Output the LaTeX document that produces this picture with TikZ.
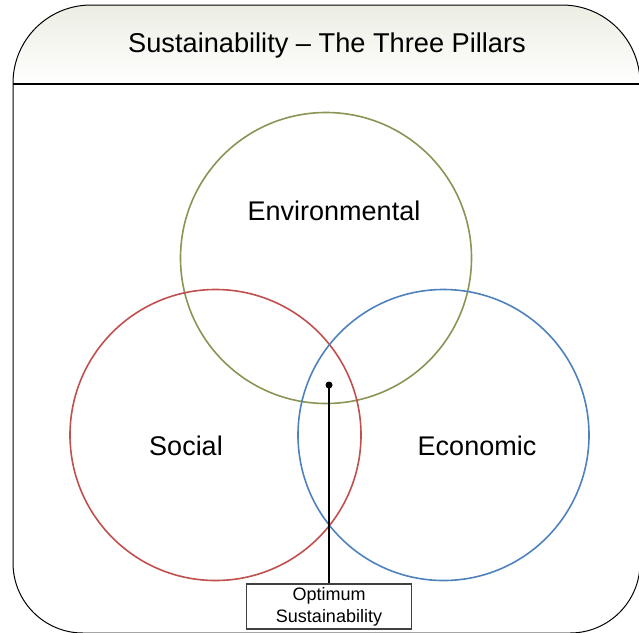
\documentclass[tikz,border=0pt]{standalone}
\usepackage{fontspec}
\setmainfont{Liberation Sans}
\definecolor{envcol}{RGB}{138,148,85}
\definecolor{soccol}{RGB}{192,80,77}
\definecolor{ecocol}{RGB}{79,129,189}
\definecolor{titletop}{RGB}{236,237,226}
\begin{document}
\begin{tikzpicture}[x=1pt,y=-1pt,
  pillar/.style={circle,minimum size=291pt,inner sep=0pt,line width=1.6pt},
  pillarlabel/.style={font=\fontsize{27}{32}\selectfont,inner sep=0pt},
  labelbox/.style={draw=black!75,line width=1.3pt,minimum width=165pt,minimum height=45pt,inner sep=0pt,align=center,font=\fontsize{18}{22}\selectfont}]
\useasboundingbox (0,0) rectangle (639,632);
\def\framepath{(13,83) arc[start angle=180,end angle=270,radius=78] -- (562,5)
  arc[start angle=270,end angle=360,radius=78] -- (640,563)
  arc[start angle=0,end angle=90,radius=70] -- (83,633)
  arc[start angle=90,end angle=180,radius=70] -- cycle}
% title band
\begin{scope}
\clip \framepath;
\shade[top color=titletop,bottom color=white] (13,5) rectangle (640,84);
\end{scope}
% frame
\draw[line width=1pt] \framepath;
\draw[line width=1.2pt] (13,84) -- (640,84);
\node[font=\fontsize{27.2}{32}\selectfont,inner sep=0pt] (title) at (327,45) {Sustainability – The Three Pillars};
% circles
\node[pillar,draw=envcol] (env) at (326,258) {};
\node[pillar,draw=soccol] (soc) at (215.5,435) {};
\node[pillar,draw=ecocol] (eco) at (443.5,435) {};
\node[pillarlabel] (envt) at (334,211) {Environmental};
\node[pillarlabel] (soct) at (186,446) {Social};
\node[pillarlabel] (ecot) at (477,446) {Economic};
% optimum
\node[labelbox,fill=white] (opt) at (329,606.5) {Optimum\\Sustainability};
\coordinate (dot) at (329,385);
\draw[line width=1.2pt] (opt.north) -- (dot);
\fill (dot) circle[radius=3.5];
\end{tikzpicture}
\end{document}
